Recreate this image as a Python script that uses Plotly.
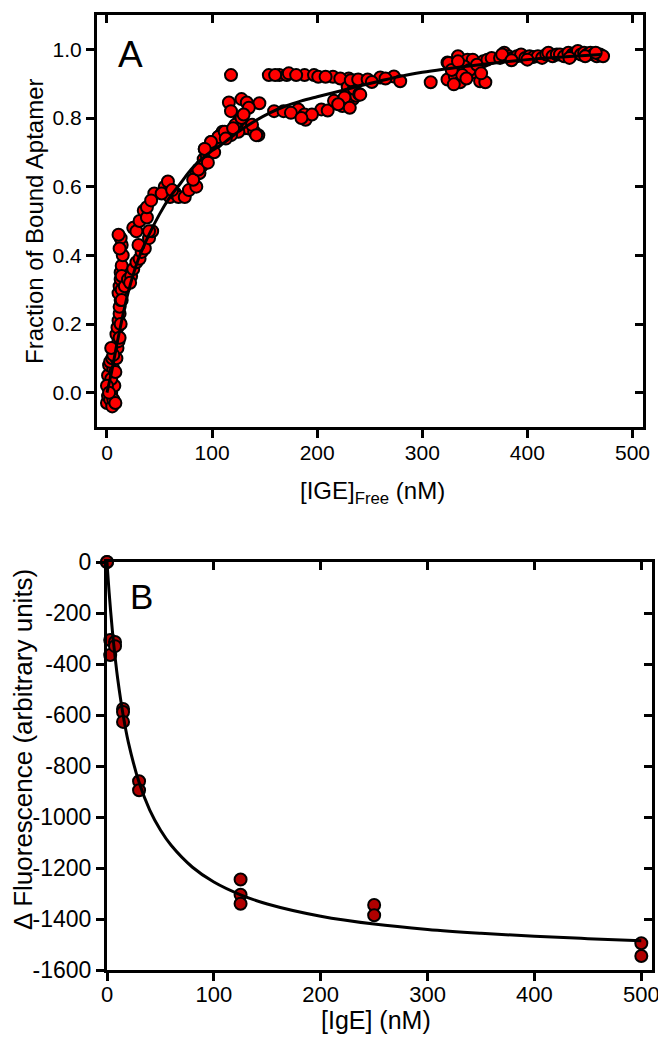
import plotly.graph_objects as go

# ---------------- Panel A data ----------------
a_free_x = [
    # low column (0-15 nM)
    0, 1, 2, 3, 4, 5, 6, 7, 8, 1, 2, 4, 6, 3, 5, 7, 0, 2, 8, 9, 10, 11, 9, 10, 11, 12, 12, 13, 11, 12,
    13, 14, 13, 14, 15, 14, 13, 12, 11, 14, 14, 13, 12, 6, 4,
    # 15-50 nM
    17, 20, 23, 25, 28, 31, 33, 36, 40, 43, 25, 28, 31, 35, 38, 38, 45, 22, 30, 42, 40,
    # 50-110 nM
    55, 58, 60, 65, 68, 74, 78, 85, 85, 88, 90, 92, 95, 97, 100, 102, 104, 93, 99, 106, 82, 87, 52, 62,
    96, 108, 110,
    # 110-150 nM
    118, 116, 128, 133, 145, 118, 135, 126, 131, 134, 144, 125, 118, 106, 99, 93, 122, 128, 140, 138,
    112, 120, 130, 142, 113,
    # 150-240 nM top row
    154, 164, 171, 173, 188, 197, 201, 215, 230, 237, 160, 180, 208, 222,
    # 150-240 nM middle row
    159, 168, 182, 188, 189, 204, 210, 175, 195, 185,
    # 215-240 nM cluster
    216, 224, 229, 234, 237, 229, 235, 232, 226, 240, 220, 231,
    # 240-320 nM
    239, 248, 260, 273, 279, 241, 308, 265, 252,
    # 320-370 nM cluster
    324, 334, 343, 348, 358, 324, 331, 336, 348, 355, 360, 325, 330, 340, 345, 352, 338, 328, 356, 362,
    366, 334, 342,
    # 370-475 nM band
    374, 378, 382, 386, 390, 394, 398, 402, 406, 410, 414, 418, 420, 424, 428, 431, 435, 439, 443, 446,
    448, 451, 454, 457, 460, 463, 466, 469, 472, 376, 400, 440, 455, 465, 385,
]
a_fraction = [
    -0.03, -0.01, 0.01, -0.02, 0.0, -0.04, -0.02, 0.02, -0.03, 0.05, 0.08, 0.04, 0.07, 0.09, 0.1, 0.12,
    0.02, 0.0, 0.06, 0.1, 0.13, 0.15, 0.17, 0.19, 0.21, 0.23, 0.25, 0.27, 0.29, 0.31,
    0.33, 0.30, 0.35, 0.37, 0.40, 0.43, 0.45, 0.42, 0.46, 0.34, 0.27, 0.2, 0.16, 0.11, 0.13,
    0.31, 0.33, 0.34, 0.36, 0.38, 0.39, 0.41, 0.42, 0.45, 0.47, 0.48, 0.47, 0.50, 0.53, 0.51, 0.54, 0.58,
    0.32, 0.43, 0.56, 0.47,
    0.60, 0.615, 0.57, 0.58, 0.57, 0.57, 0.59, 0.60, 0.635, 0.64, 0.66, 0.68, 0.69, 0.70, 0.72, 0.70, 0.73,
    0.71, 0.73, 0.745, 0.62, 0.65, 0.58, 0.59, 0.67, 0.75, 0.76,
    0.925, 0.845, 0.855, 0.845, 0.843, 0.82, 0.83, 0.795, 0.77, 0.77, 0.75, 0.76, 0.75, 0.745, 0.73, 0.71,
    0.78, 0.80, 0.76, 0.78, 0.76, 0.77, 0.81, 0.75, 0.74,
    0.925, 0.925, 0.925, 0.93, 0.925, 0.925, 0.92, 0.92, 0.915, 0.91, 0.925, 0.925, 0.92, 0.915,
    0.82, 0.82, 0.825, 0.81, 0.795, 0.825, 0.822, 0.815, 0.81, 0.80,
    0.85, 0.835, 0.845, 0.855, 0.865, 0.89, 0.885, 0.91, 0.86, 0.87, 0.84, 0.83,
    0.912, 0.912, 0.918, 0.921, 0.907, 0.868, 0.904, 0.915, 0.905,
    0.962, 0.98, 0.97, 0.97, 0.965, 0.912, 0.921, 0.904, 0.933, 0.907, 0.904, 0.96, 0.898, 0.95, 0.94,
    0.955, 0.925, 0.94, 0.93, 0.97, 0.975, 0.965, 0.915,
    0.975, 0.99, 0.98, 0.975, 0.98, 0.985, 0.975, 0.98, 0.978, 0.98, 0.975, 0.985, 0.99, 0.98, 0.985,
    0.985, 0.98, 0.99, 0.985, 0.99, 0.995, 0.985, 0.99, 0.985, 0.99, 0.985, 0.98, 0.985, 0.98, 0.985,
    0.97, 0.975, 0.98, 0.99, 0.968,
]

# fitted curve
a_fit_x = [0, 5, 10, 20, 30, 40, 50, 60, 70, 80, 90, 100, 110, 125, 140, 155, 170, 185, 200, 220,
           240, 260, 280, 300, 320, 340, 360, 380, 400, 420, 440, 470]
a_fit_y = [0.0, 0.07, 0.15, 0.29, 0.39, 0.46, 0.52, 0.57, 0.61, 0.65, 0.68, 0.705, 0.725, 0.76, 0.79,
           0.815, 0.835, 0.85, 0.862, 0.877, 0.893, 0.908, 0.922, 0.933, 0.942, 0.95, 0.957, 0.964,
           0.97, 0.975, 0.979, 0.985]

a_xticks = [0, 100, 200, 300, 400, 500]
a_yticks = [0.0, 0.2, 0.4, 0.6, 0.8, 1.0]

# ---------------- Panel B data ----------------
b_ige = [0, 0, 3, 3, 7.5, 7.5, 15, 15, 15, 30, 30, 125, 125, 125, 250, 250, 500, 500]
b_dfluor = [0, 0, -306, -365, -314, -330, -576, -588, -627, -860, -895, -1245, -1305, -1340,
            -1345, -1385, -1495, -1545]

b_fit_x = [0, 2, 5, 8, 10, 15, 20, 30, 40, 50, 60, 80, 100, 125, 150, 200, 250, 300, 350, 400, 450, 500]
b_fit_y = [0, -120, -268, -389, -458, -598, -707, -864, -973, -1051, -1111, -1197, -1255, -1305,
           -1341, -1389, -1420, -1441, -1456, -1468, -1477, -1485]

b_xticks = [0, 100, 200, 300, 400, 500]
b_yticks = [0, -200, -400, -600, -800, -1000, -1200, -1400, -1600]

FONT = "Liberation Sans, Arial, sans-serif"
W, H = 666, 1042
OFF = 8  # page body margin offset compensation


def px_x(p):
    return (p - OFF) / W


def px_y(p):
    return 1 - (p - OFF) / H


fig = go.Figure()

# Panel A
fig.add_trace(go.Scatter(x=a_free_x, y=a_fraction, mode="markers", xaxis="x", yaxis="y",
                         marker=dict(size=12, color="#ff0000", line=dict(color="black", width=2)),
                         cliponaxis=False, showlegend=False, hoverinfo="skip"))
fig.add_trace(go.Scatter(x=a_fit_x, y=a_fit_y, mode="lines", xaxis="x", yaxis="y",
                         line=dict(color="black", width=3, shape="spline"), showlegend=False))
fig.add_trace(go.Scatter(x=[None], y=[None], xaxis="x3", yaxis="y3", mode="markers",
                         showlegend=False))

# Panel B
fig.add_trace(go.Scatter(x=b_ige, y=b_dfluor, mode="markers", xaxis="x2", yaxis="y2",
                         marker=dict(size=12, color="#b00000", line=dict(color="black", width=2)),
                         cliponaxis=False, showlegend=False, hoverinfo="skip"))
fig.add_trace(go.Scatter(x=b_fit_x, y=b_fit_y, mode="lines", xaxis="x2", yaxis="y2",
                         line=dict(color="black", width=3, shape="spline"), cliponaxis=False,
                         showlegend=False))
fig.add_trace(go.Scatter(x=[None], y=[None], xaxis="x4", yaxis="y4", mode="markers",
                         showlegend=False))

ax_common = dict(showgrid=False, zeroline=False, showline=True, linecolor="black", linewidth=3,
                 tickcolor="black", tickwidth=3, ticklen=8, automargin=False)

a_x_dom = [px_x(97), px_x(643)]
a_y_dom = [px_y(427), px_y(15)]
b_x_dom = [px_x(107), px_x(652)]
b_y_dom = [px_y(970), px_y(562)]

a_xr = [-9.5, 510]
a_yr = [-0.1, 1.1]
b_xr = [0, 510]
b_yr = [-1600, 0]

fig.update_layout(
    width=W, height=H, margin=dict(l=0, r=0, t=0, b=0, pad=0, autoexpand=False),
    paper_bgcolor="white", plot_bgcolor="white", showlegend=False,
    font=dict(family=FONT, color="black"),
    xaxis=dict(domain=a_x_dom, anchor="y", range=a_xr, tickvals=a_xticks, ticks="outside",
               ticklabelstandoff=-3,
               tickfont=dict(size=21, family=FONT, color="black"), **ax_common),
    yaxis=dict(domain=a_y_dom, anchor="x", range=a_yr, tickvals=a_yticks,
               ticktext=[f"{v:.1f}" for v in a_yticks], ticks="outside",
               tickfont=dict(size=21, family=FONT, color="black"), **ax_common),
    xaxis3=dict(overlaying="x", side="top", anchor="y3", range=a_xr, tickvals=a_xticks,
                ticks="inside", showticklabels=False, **ax_common),
    yaxis3=dict(overlaying="y", side="right", anchor="x3", range=a_yr, tickvals=a_yticks,
                ticks="inside", showticklabels=False, **ax_common),
    xaxis2=dict(domain=b_x_dom, anchor="y2", range=b_xr, tickvals=b_xticks, ticks="outside",
                ticklabelstandoff=-5,
                tickfont=dict(size=22, family=FONT, color="black"), **ax_common),
    yaxis2=dict(domain=b_y_dom, anchor="x2", range=b_yr, tickvals=b_yticks,
                ticktext=[str(v) for v in b_yticks], ticks="outside",
                tickfont=dict(size=23, family=FONT, color="black"), **ax_common),
    xaxis4=dict(overlaying="x2", side="top", anchor="y4", range=b_xr, tickvals=b_xticks,
                ticks="inside", showticklabels=False, **ax_common),
    yaxis4=dict(overlaying="y2", side="right", anchor="x4", range=b_yr, tickvals=b_yticks,
                ticks="inside", showticklabels=False, **ax_common),
)

annots = [
    dict(text="Fraction of Bound Aptamer", x=px_x(34), y=px_y(221), textangle=-90, size=24),
    dict(text="[IGE]<sub>Free</sub> (nM)", x=px_x(372), y=px_y(492), textangle=0, size=24),
    dict(text="A", x=px_x(130), y=px_y(54), textangle=0, size=37),
    dict(text="Δ Fluorescence (arbitrary units)", x=px_x(23), y=px_y(750), textangle=-90, size=26),
    dict(text="[IgE] (nM)", x=px_x(376), y=px_y(1020), textangle=0, size=25),
    dict(text="B", x=px_x(141), y=px_y(596), textangle=0, size=35),
]
for a in annots:
    fig.add_annotation(text=a["text"], x=a["x"], y=a["y"], xref="paper", yref="paper",
                       xanchor="center", yanchor="middle", textangle=a["textangle"],
                       showarrow=False, font=dict(size=a["size"], family=FONT, color="black"))

fig.write_html("out.html")
